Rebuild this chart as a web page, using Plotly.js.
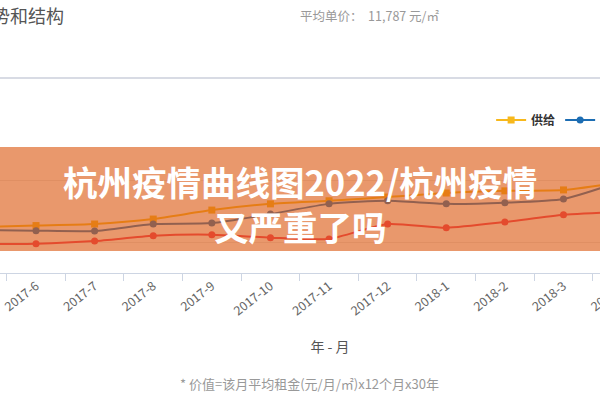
<!DOCTYPE html>
<html>
<head>
<meta charset="utf-8">
<script src="https://cdn.plot.ly/plotly-3.0.1.min.js"></script>
<style>
  html, body { margin: 0; padding: 0; width: 600px; height: 400px; overflow: hidden; background: #fff; }
  #chart { position: absolute; left: -50px; top: 0; width: 760px; height: 400px; }
</style>
</head>
<body>
<div id="chart"></div>
<script>
// ---- data ----
const months = ["2017-5","2017-6","2017-7","2017-8","2017-9","2017-10","2017-11","2017-12","2018-1","2018-2","2018-3","2018-4"];
const supply = [10480,10530,10580,10740,11030,11230,11330,11450,11580,11650,11680,11930];
const demand = [10390,10365,10355,10580,10610,10900,11230,11330,11230,11270,11390,11970];
const value  = [9935,9945,10030,10200,10235,10140,10100,10580,10460,10645,10880,10970];
const seriesNames = ["供给","需求","价值"];

const titleText = "价格走势和结构";
const priceText = "平均单价：  11,787 元/㎡";
const xTitle = "年 - 月";
const footText = "* 价值=该月平均租金(元/月/㎡)x12个月x30年";
const bannerText = "杭州疫情曲线图2022/杭州疫情<br>又严重了吗";

const cjk = '"Noto Sans CJK SC", "Noto Sans", sans-serif';

const traces = [
  {x: months, y: supply, name: seriesNames[0], type: 'scatter', mode: 'lines+markers',
   line: {color: '#f7b81c', width: 2, shape: 'spline', smoothing: 0.6},
   marker: {color: '#f7b81c', size: 7, symbol: 'square'}},
  {x: months, y: demand, name: seriesNames[1], type: 'scatter', mode: 'lines+markers',
   line: {color: '#1c6db3', width: 2, shape: 'spline', smoothing: 0.6},
   marker: {color: '#1c6db3', size: 7, symbol: 'circle'}},
  {x: months, y: value, name: seriesNames[2], type: 'scatter', mode: 'lines+markers',
   line: {color: '#f2355a', width: 2, shape: 'spline', smoothing: 0.6},
   marker: {color: '#f2355a', size: 7, symbol: 'circle'}}
];

const layout = {
  width: 760, height: 400,
  margin: {l: 0, r: 0, t: 118, b: 127},
  paper_bgcolor: '#ffffff', plot_bgcolor: '#ffffff',
  font: {family: cjk, color: '#666'},
  showlegend: true,
  legend: {orientation: 'h', x: 0.712, y: (273 - 120) / 155, xanchor: 'left', yanchor: 'middle',
           font: {family: cjk, size: 12, color: '#333', weight: 'bold'}, bgcolor: 'rgba(0,0,0,0)'},
  xaxis: {
    type: 'category', categoryorder: 'array', categoryarray: months,
    range: [-0.4676, 12.5],
    tickson: 'boundaries', ticks: 'outside', ticklen: 7, tickcolor: '#cdd5e3',
    showline: true, linecolor: '#cdd5e3', linewidth: 1, showgrid: false,
    tickangle: -38, tickfont: {family: cjk, size: 12.5, color: '#666'},
    title: {text: xTitle, font: {family: cjk, size: 14, color: '#555'}, standoff: 24}
  },
  yaxis: {
    range: [9000, 14000], dtick: 2000, showticklabels: false, zeroline: false,
    showline: false, gridcolor: '#e6e6e6', gridwidth: 1, ticks: ''
  },
  shapes: [
    {type: 'line', xref: 'paper', yref: 'paper', x0: 0, x1: 1,
     y0: (273 - 78) / 155, y1: (273 - 78) / 155, line: {color: '#d8dbe4', width: 2}},
    {type: 'rect', xref: 'paper', yref: 'paper', layer: 'above', x0: 0, x1: 1,
     y0: (273 - 251) / 155, y1: (273 - 147) / 155,
     fillcolor: 'rgba(220,89,18,0.62)', line: {width: 0}}
  ],
  annotations: [
    {xref: 'paper', yref: 'paper', x: 116 / 760, y: (273 - 15) / 155, xanchor: 'right', yanchor: 'middle',
     text: titleText, showarrow: false, font: {family: cjk, size: 18, color: '#555'}},
    {xref: 'paper', yref: 'paper', x: 348 / 760, y: (273 - 15) / 155, xanchor: 'left', yanchor: 'middle',
     text: priceText, showarrow: false, font: {family: cjk, size: 12.5, color: '#999'}},
    {xref: 'paper', yref: 'paper', x: 359 / 760, y: (273 - 383) / 155, xanchor: 'center', yanchor: 'middle',
     text: footText, showarrow: false, font: {family: cjk, size: 13, color: '#999'}},
    {xref: 'paper', yref: 'paper', x: 350 / 760, y: (273 - 203) / 155, xanchor: 'center', yanchor: 'middle',
     text: bannerText, showarrow: false,
     font: {family: cjk, size: 34.5, color: '#ffffff', weight: 'bold'}}
  ]
};

Plotly.newPlot('chart', traces, layout, {displayModeBar: false, staticPlot: true});
</script>
</body>
</html>
